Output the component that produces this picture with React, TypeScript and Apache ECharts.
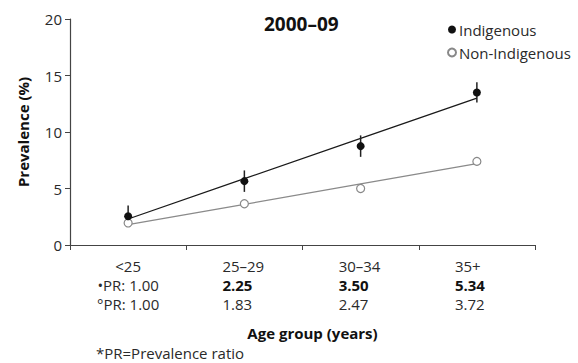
import React, { useEffect, useRef } from 'react';
import * as echarts from 'echarts';

const categories = ['<25', '25–29', '30–34', '35+'];
const indigenous = [2.55, 5.65, 8.75, 13.5];
const indigenousLow = [1.6, 4.7, 7.8, 12.6];
const indigenousHigh = [3.5, 6.6, 9.7, 14.4];
const nonIndigenous = [1.95, 3.65, 5.0, 7.4];
const indigenousTrend = [2.3, 5.87, 9.43, 13.0];
const nonIndigenousTrend = [1.8, 3.6, 5.4, 7.2];
const prIndigenous = ['1.00', '2.25', '3.50', '5.34'];
const prNonIndigenous = ['1.00', '1.83', '2.47', '3.72'];

const FONT = 'Open Sans';
const TXT = '#2a2a2a';

export default function App() {
  const ref = useRef<HTMLDivElement>(null);
  useEffect(() => {
    if (!ref.current) return;
    const chart = echarts.init(ref.current, null, { renderer: 'svg' });
    chart.setOption({
      animation: false,
      textStyle: { fontFamily: FONT, color: TXT },
      title: {
        text: '2000–09',
        left: 259,
        top: 9,
        textStyle: { fontFamily: FONT, fontSize: 19, fontWeight: 'bold', color: '#111' },
      },
      legend: {
        orient: 'vertical',
        left: 442,
        top: 17,
        itemWidth: 8,
        itemHeight: 8,
        itemGap: 8,
        icon: 'circle',
        textStyle: { fontFamily: FONT, fontSize: 15, color: TXT, padding: [0, 0, 0, -2] },
        data: ['Indigenous', 'Non-Indigenous'],
      },
      grid: { left: 70, right: 43, top: 19, bottom: 118, containLabel: false },
      xAxis: {
        type: 'category',
        data: categories,
        boundaryGap: true,
        axisLine: { lineStyle: { color: '#444', width: 1.2 } },
        axisTick: { show: true, alignWithLabel: false, length: 5, lineStyle: { color: '#444' } },
        axisLabel: {
          interval: 0,
          margin: 11,
          formatter: (value: string, idx: number) => {
            if (idx === 0) {
              return `{c|${value}}\n{c|•PR: ${prIndigenous[idx]}}\n{c|°PR: ${prNonIndigenous[idx]}}`;
            }
            return `{l|${value}}\n{lb|${prIndigenous[idx]}}\n{l|${prNonIndigenous[idx]}}`;
          },
          rich: {
            c: { fontFamily: FONT, fontSize: 15, color: TXT, lineHeight: 19, align: 'center' },
            l: { fontFamily: FONT, fontSize: 15, color: TXT, lineHeight: 19, width: 44, align: 'left' },
            lb: { fontFamily: FONT, fontSize: 15, color: '#111', fontWeight: 'bold', lineHeight: 19, width: 44, align: 'left' },
          },
        },
        name: 'Age group (years)',
        nameLocation: 'middle',
        nameGap: 80,
        nameTextStyle: { fontFamily: FONT, fontSize: 15, fontWeight: 'bold', color: '#111', padding: [0, 0, 0, 20] },
      },
      yAxis: {
        type: 'value',
        min: 0,
        max: 20,
        interval: 5,
        axisLine: { show: true, lineStyle: { color: '#444', width: 1.2 } },
        axisTick: { show: true, length: 5, lineStyle: { color: '#444' } },
        axisLabel: { fontFamily: FONT, fontSize: 15, color: TXT, margin: 8 },
        splitLine: { show: false },
        name: 'Prevalence (%)',
        nameLocation: 'middle',
        nameGap: 40,
        nameTextStyle: { fontFamily: FONT, fontSize: 15, fontWeight: 'bold', color: '#111' },
      },
      graphic: [
        {
          type: 'text',
          left: 96,
          top: 345,
          style: { text: '*PR=Prevalence ratio', fontFamily: FONT, fontSize: 15, fill: TXT },
        },
      ],
      series: [
        {
          type: 'line',
          name: 'trendNon',
          data: nonIndigenousTrend,
          showSymbol: false,
          symbol: 'none',
          lineStyle: { color: '#8a8a8a', width: 1.3 },
          z: 1,
        },
        {
          type: 'line',
          name: 'trendInd',
          data: indigenousTrend,
          showSymbol: false,
          symbol: 'none',
          lineStyle: { color: '#1a1a1a', width: 1.3 },
          z: 1,
        },
        {
          type: 'custom',
          name: 'errInd',
          data: categories.map((_, i) => [i, indigenousLow[i], indigenousHigh[i]]),
          encode: { x: 0, y: [1, 2] },
          renderItem: (params: any, api: any) => {
            const x = api.value(0);
            const p1 = api.coord([x, api.value(1)]);
            const p2 = api.coord([x, api.value(2)]);
            return {
              type: 'line',
              shape: { x1: p1[0], y1: p1[1], x2: p2[0], y2: p2[1] },
              style: { stroke: '#222', lineWidth: 1.5 },
            };
          },
          z: 2,
        },
        {
          type: 'scatter',
          name: 'Non-Indigenous',
          data: nonIndigenous,
          symbol: 'circle',
          symbolSize: 8,
          itemStyle: { color: '#fff', borderColor: '#888', borderWidth: 1.2, opacity: 1 },
          z: 3,
        },
        {
          type: 'scatter',
          name: 'Indigenous',
          data: indigenous,
          symbol: 'circle',
          symbolSize: 8,
          itemStyle: { color: '#111', opacity: 1 },
          z: 4,
        },
      ],
    });
    return () => chart.dispose();
  }, []);
  return (
    <div
      ref={ref}
      style={{ position: 'fixed', left: 0, top: 0, width: 578, height: 363, background: '#fff' }}
    />
  );
}
